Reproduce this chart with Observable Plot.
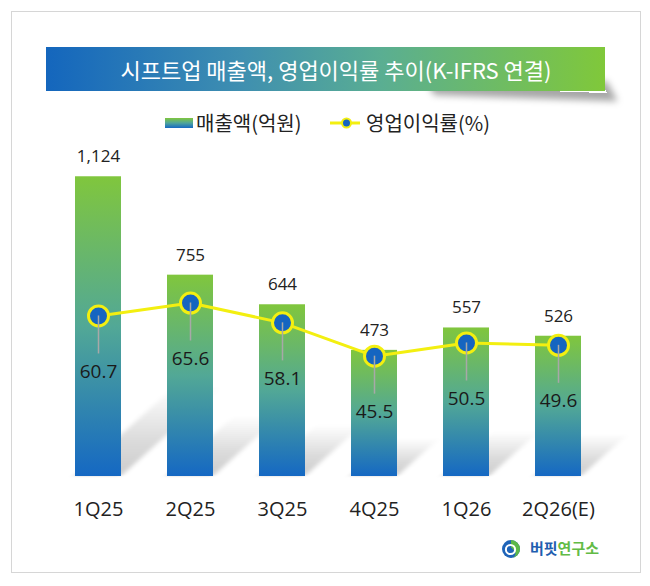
<!DOCTYPE html>
<html><head><meta charset="utf-8">
<script src="https://cdn.jsdelivr.net/npm/d3@7"></script>
<script src="https://cdn.jsdelivr.net/npm/@observablehq/plot@0.6"></script>
<style>
html,body{margin:0;padding:0;background:#fff;}
#root{position:relative;width:650px;height:586px;overflow:hidden;font-family:"Noto Sans CJK KR","Open Sans",sans-serif;}
#frame{position:absolute;left:11px;top:11px;width:630px;height:562px;border:1px solid #d6d6d6;box-sizing:border-box;}
#bshadow{position:absolute;left:420px;top:70px;width:180px;height:20px;
  box-shadow:6px 8px 7px rgba(0,0,0,0.35);transform:skewX(30deg) rotate(2deg);}
#banner{position:absolute;left:46px;top:47px;width:559px;height:44px;
  background:linear-gradient(to right,#1466bd 0%,#3f8fb0 35%,#5aae92 60%,#80c83a 100%);}
#title{position:absolute;left:46px;top:47px;width:559px;height:44px;line-height:44px;color:#fff;
  font-size:22px;text-align:center;padding-left:21px;box-sizing:border-box;white-space:nowrap;}
.lg{position:absolute;font-size:20px;line-height:24px;color:#222;white-space:nowrap;}
#sw{position:absolute;left:165px;top:118px;width:28px;height:10px;background:linear-gradient(to bottom,#80c63d,#4fa59b,#1568c3);}
svg.plot{position:absolute;left:0;top:0;}
#logo{position:absolute;left:530px;top:538px;font-size:15px;font-weight:700;line-height:20px;white-space:nowrap;}
</style></head>
<body>
<svg width="0" height="0" style="position:absolute">
  <defs>
    <linearGradient id="barGrad" x1="0" y1="0" x2="0" y2="1">
      <stop offset="0" stop-color="#80c63d"/>
      <stop offset="0.5" stop-color="#52a896"/>
      <stop offset="1" stop-color="#1568c3"/>
    </linearGradient>
    <linearGradient id="shadowGrad" x1="0" y1="0" x2="0" y2="1">
      <stop offset="0" stop-color="#000" stop-opacity="0"/>
      <stop offset="0.6" stop-color="#000" stop-opacity="0.14"/>
      <stop offset="1" stop-color="#000" stop-opacity="0.2"/>
    </linearGradient>
    <filter id="blur" x="-50%" y="-50%" width="200%" height="200%"><feGaussianBlur stdDeviation="3"/></filter>
  </defs>
</svg>
<div id="root">
  <div id="frame"></div>
  <div id="bshadow"></div>
  <div id="banner"></div>
  <div id="title">시프트업 매출액, 영업이익률 추이(K-IFRS 연결)</div>
  <div id="sw"></div>
  <div class="lg" style="left:196px;top:111px;">매출액(억원)</div>
  <svg style="position:absolute;left:328px;top:113px;" width="36" height="20">
    <line x1="2" y1="10" x2="32" y2="10" stroke="#f3ef10" stroke-width="3"/>
    <circle cx="18.5" cy="10" r="4.5" fill="#1565c0" stroke="#f3ef10" stroke-width="2"/>
  </svg>
  <div class="lg" style="left:366px;top:111px;">영업이익률(%)</div>
  <svg style="position:absolute;left:501px;top:539px;" width="20" height="20">
    <circle cx="10" cy="10" r="9" fill="#1f64b8"/>
    <path d="M10 1 A9 9 0 0 1 10 19 A4.5 4.5 0 0 0 10 10 Z" fill="#5cb848"/>
    <circle cx="9.5" cy="10.5" r="4.6" fill="none" stroke="#fff" stroke-width="2"/>
    <circle cx="9.5" cy="10.5" r="2" fill="#1f64b8"/>
  </svg>
  <div id="logo"><span style="color:#1f5eb0">버핏</span><span style="color:#62bb46">연구소</span></div>
</div>
<script>
const quarters = ["1Q25","2Q25","3Q25","4Q25","1Q26","2Q26(E)"];
const revenue = [1124,755,644,473,557,526];
const margin = [60.7,65.6,58.1,45.5,50.5,49.6];
const data = quarters.map((q,i)=>({q, revenue: revenue[i], margin: margin[i]}));

const common = {
  width:650, height:586, marginLeft:50, marginRight:44, marginTop:156, marginBottom:110,
  x:{domain:quarters, paddingInner:0.5, paddingOuter:0.25, axis:null},
  style:{background:"transparent", overflow:"visible", fontFamily:"'Open Sans','Noto Sans CJK KR',sans-serif"}
};

const p1 = Plot.plot({...common,
  y:{domain:[0,1200], axis:null},
  marks:[
    Plot.barY(data,{x:"q", y:"revenue", fill:"url(#shadowGrad)"}),
    Plot.barY(data,{x:"q", y:"revenue", fill:"url(#barGrad)"}),
    Plot.text(data,{x:"q", y:"revenue", text:d=>d3.format(",")(d.revenue), dy:-20, fontSize:17, fill:"#222"}),
    Plot.text(data,{x:"q", text:"q", frameAnchor:"bottom", dy:39, fontSize:20, fill:"#222"})
  ]
});
const shadow = p1.querySelector('g[aria-label="bar"]');
if (shadow) {
  shadow.setAttribute("transform","translate(0,476) skewX(-48) scale(1,0.3) translate(0,-476)");
  shadow.setAttribute("filter","url(#blur)");
}

const p2 = Plot.plot({...common,
  y:{domain:[0,121], axis:null},
  marks:[
    Plot.line(data,{x:"q", y:"margin", stroke:"#f3ef10", strokeWidth:3}),
    Plot.dot(data,{x:"q", y:"margin", r:10, fill:"#1565c0", stroke:"#f3ef10", strokeWidth:3}),
    Plot.ruleX(data,{x:"q", y1:"margin", y2:"margin", insetBottom:-38, stroke:"#a8a8a8", strokeWidth:1.5}),
    Plot.text(data,{x:"q", y:"margin", text:d=>d.margin.toFixed(1), dy:56, fontSize:19, fill:"#1a1a1a"})
  ]
});
p1.classList.add("plot"); p2.classList.add("plot");
const root = document.getElementById("root");
root.insertBefore(p1, document.getElementById("logo"));
root.insertBefore(p2, document.getElementById("logo"));
</script>
</body></html>
